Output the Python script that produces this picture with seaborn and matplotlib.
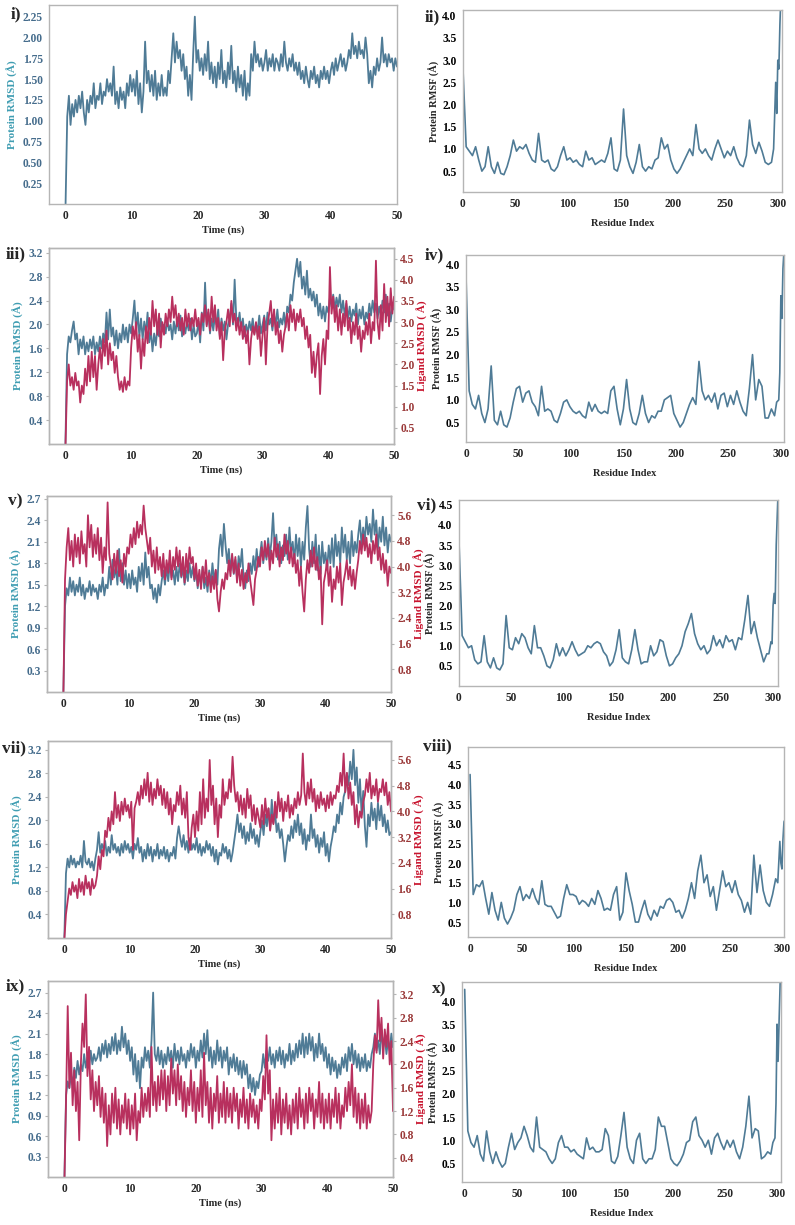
import numpy as np
import seaborn as sns
import matplotlib.pyplot as plt
from matplotlib.ticker import FormatStrFormatter

# ---- data (time step 0.25 ns, residues step 3 + tail) ----
RMSD_I = [
    0.0, 1.05, 1.3, 0.95, 1.2, 1.05, 1.25, 1.1, 1.3, 1.15, 1.35, 1.1, 0.95, 1.25, 1.1, 1.3, 1.2, 1.45, 1.15, 1.3,
    1.25, 1.45, 1.2, 1.35, 1.3, 1.5, 1.35, 1.45, 1.3, 1.65, 1.2, 1.35, 1.15, 1.4, 1.25, 1.35, 1.15, 1.45, 1.3, 1.55,
    1.35, 1.5, 1.3, 1.6, 1.2, 1.45, 1.1, 1.35, 1.95, 1.45, 1.6, 1.35, 1.55, 1.3, 1.6, 1.25, 1.45, 1.3, 1.55, 1.3,
    1.4, 1.3, 1.6, 1.45, 1.75, 2.05, 1.7, 1.95, 1.75, 1.85, 1.6, 1.8, 1.5, 1.65, 1.3, 1.55, 1.25, 1.8, 2.25, 1.7,
    1.85, 1.6, 1.75, 1.55, 1.8, 1.6, 1.95, 1.5, 1.7, 1.45, 1.65, 1.4, 1.7, 1.5, 1.85, 1.45, 1.6, 1.4, 1.7, 1.5,
    1.9, 1.45, 1.6, 1.35, 1.65, 1.4, 1.55, 1.3, 1.6, 1.25, 1.45, 1.3, 1.8, 1.6, 1.95, 1.7, 1.8, 1.65, 1.75, 1.6,
    1.7, 1.85, 1.6, 1.75, 1.65, 1.8, 1.6, 1.75, 1.7, 1.6, 1.8, 1.65, 1.95, 1.7, 1.6, 1.75, 1.65, 1.8, 1.6, 1.7,
    1.55, 1.7, 1.5, 1.6, 1.45, 1.65, 1.5, 1.4, 1.6, 1.5, 1.65, 1.45, 1.55, 1.4, 1.6, 1.5, 1.65, 1.5, 1.6, 1.45,
    1.6, 1.7, 1.55, 1.75, 1.6, 1.7, 1.8, 1.65, 1.75, 1.6, 1.7, 1.85, 1.75, 2.05, 1.8, 1.9, 1.75, 1.95, 1.8, 1.85,
    1.75, 2.0, 1.8, 1.45, 1.6, 1.4, 1.65, 1.55, 1.75, 1.6, 1.7, 2.0, 1.7, 1.8, 1.65, 1.8, 1.7, 1.75, 1.6, 1.75,
    1.65]

RMSD_III = [
    0.0, 1.5, 1.8, 1.7, 1.9, 2.05, 1.75, 1.85, 1.5, 1.75, 1.6, 1.8, 1.5, 1.7, 1.55, 1.75, 1.6, 1.8, 1.5, 1.7,
    1.55, 1.8, 1.6, 1.85, 1.7, 2.2, 1.75, 2.25, 1.8, 1.95, 1.65, 1.9, 1.6, 1.85, 1.7, 2.0, 1.75, 1.95, 1.7, 2.0,
    1.85, 2.1, 2.4, 1.9, 2.2, 1.8, 2.1, 1.75, 2.05, 1.85, 2.2, 1.7, 1.9, 1.55, 1.85, 1.65, 1.95, 1.8, 2.1, 1.9,
    2.0, 1.85, 2.1, 1.9, 2.0, 1.75, 2.05, 1.85, 2.1, 1.9, 2.15, 1.8, 2.0, 1.85, 2.05, 1.9, 2.1, 1.75, 2.0, 1.8,
    1.85, 2.05, 1.7, 2.2, 1.9, 2.7, 2.0, 2.2, 1.85, 2.1, 1.9, 2.15, 2.0, 2.25, 1.8, 2.1, 1.9, 2.05, 1.75, 2.0,
    2.1, 2.35, 2.0, 2.75, 2.1, 2.0, 2.2, 1.9, 2.1, 1.8, 2.0, 1.85, 2.05, 1.9, 2.1, 1.85, 2.0, 1.9, 2.15, 1.85,
    2.0, 2.15, 1.9, 2.2, 2.0, 2.1, 1.9, 2.15, 2.0, 2.25, 1.95, 2.1, 2.0, 2.2, 1.95, 2.3, 2.2, 2.5, 2.4, 2.7,
    2.9, 3.1, 2.8, 3.05, 2.6, 2.8, 2.5, 2.9, 2.45, 2.6, 2.4, 2.55, 2.3, 2.5, 2.15, 2.35, 2.1, 2.3, 2.05, 2.3,
    2.2, 2.45, 2.3, 2.5, 2.25, 2.45, 2.3, 2.5, 2.2, 2.4, 2.15, 2.35, 2.1, 2.3, 2.05, 2.25, 2.15, 2.35, 2.0, 2.25,
    2.1, 2.3, 2.0, 2.2, 2.1, 2.35, 2.15, 2.4, 2.2, 2.35, 2.1, 2.3, 2.15, 2.4, 2.2, 2.5, 2.15, 2.35, 2.05, 2.3,
    2.25]
LIG_III = [
    0.0, 1.6, 2.0, 1.5, 1.7, 1.4, 1.8, 1.5, 1.6, 1.1, 1.5, 1.3, 1.9, 1.5, 2.2, 1.6, 2.3, 1.7, 2.2, 1.4,
    2.0, 2.4, 1.9, 2.6, 2.2, 2.8, 2.0, 2.5, 2.1, 2.3, 1.8, 2.2, 1.7, 1.4, 1.6, 1.35, 1.7, 1.4, 1.6, 1.5,
    2.4, 2.9, 2.6, 3.0, 2.3, 2.7, 1.9, 2.6, 2.2, 2.9, 2.5, 3.1, 2.7, 3.5, 2.9, 3.3, 2.7, 3.2, 2.4, 3.0,
    2.7, 3.2, 2.9, 3.3, 3.0, 3.6, 3.1, 3.4, 2.9, 3.2, 2.8, 3.1, 2.7, 3.3, 2.9, 3.2, 2.8, 3.1, 2.9, 3.3,
    2.9, 3.1, 2.7, 3.2, 3.0, 3.4, 2.9, 3.3, 2.8, 3.6, 3.0, 3.4, 2.8, 3.1, 2.6, 3.0, 2.1, 2.8, 3.0, 3.3,
    2.9, 3.5, 3.0, 3.2, 2.8, 3.1, 2.7, 3.0, 2.6, 2.9, 2.5, 2.8, 2.0, 2.6, 2.9, 2.7, 3.0, 2.6, 2.9, 2.2,
    2.7, 3.1, 2.0, 2.9, 3.2, 3.5, 2.9, 3.3, 2.7, 3.0, 2.5, 2.8, 2.3, 2.7, 2.9, 3.2, 2.8, 3.4, 3.0, 3.3,
    2.8, 3.2, 3.0, 3.3, 2.9, 3.1, 2.6, 2.9, 2.4, 2.7, 1.8, 2.3, 1.7, 2.2, 2.5, 1.3, 2.2, 2.6, 2.0, 2.8,
    2.6, 4.3, 3.2, 3.6, 3.0, 3.4, 2.8, 3.3, 2.7, 3.2, 2.9, 3.5, 2.8, 3.1, 2.5, 3.0, 2.7, 3.2, 2.6, 2.9,
    2.3, 2.8, 2.6, 3.0, 2.7, 3.2, 2.5, 3.0, 2.8, 4.45, 3.0, 2.6, 3.4, 2.8, 3.9, 3.0, 3.6, 2.9, 3.8, 3.2,
    3.6]

RMSD_V = [
    0.0, 1.2, 1.45, 1.35, 1.6, 1.4, 1.55, 1.35, 1.5, 1.4, 1.6, 1.35, 1.5, 1.3, 1.45, 1.4, 1.55, 1.35, 1.5, 1.4,
    1.45, 1.3, 1.5, 1.4, 1.6, 1.35, 1.5, 1.45, 1.75, 1.5, 1.85, 1.6, 1.75, 1.5, 2.0, 1.55, 1.8, 1.5, 1.7, 1.45,
    1.65, 1.45, 1.7, 1.5, 1.6, 1.4, 1.75, 1.55, 1.8, 1.5, 1.95, 1.6, 1.75, 1.45, 1.5, 1.3, 1.45, 1.25, 1.5, 1.35,
    1.55, 1.7, 1.5, 1.75, 1.55, 1.8, 1.6, 1.7, 1.5, 1.75, 1.55, 1.8, 1.6, 1.75, 1.5, 1.7, 1.55, 1.8, 1.6, 1.75,
    1.55, 1.7, 1.45, 1.65, 1.5, 1.75, 1.45, 1.6, 1.4, 1.7, 1.5, 1.8, 1.55, 1.7, 1.5, 2.0, 2.2, 1.9, 2.35, 2.05,
    1.8, 2.0, 1.7, 1.9, 1.65, 1.85, 1.6, 1.9, 1.75, 2.0, 1.6, 1.45, 1.7, 1.55, 1.8, 1.65, 1.9, 1.7, 2.0, 1.75,
    1.9, 2.1, 1.8, 2.0, 1.85, 2.15, 1.9, 2.1, 2.5, 2.0, 2.2, 1.85, 2.1, 1.8, 2.05, 1.9, 2.2, 1.85, 2.3, 1.95,
    2.1, 1.8, 2.2, 1.9, 2.15, 1.75, 2.1, 1.85, 2.3, 2.6, 2.0, 1.75, 2.1, 1.8, 2.2, 1.7, 2.05, 1.65, 2.1, 1.8,
    1.95, 1.7, 2.05, 1.8, 2.15, 1.75, 2.2, 1.9, 2.1, 1.8, 2.3, 1.95, 2.2, 1.85, 2.1, 1.8, 2.25, 1.9, 2.1, 1.95,
    2.2, 2.4, 2.05, 2.3, 2.1, 2.45, 2.2, 2.35, 2.1, 2.55, 2.2, 2.4, 2.0, 2.3, 2.1, 2.45, 2.05, 2.3, 1.95, 2.2,
    2.1]
LIG_V = [
    0.0, 3.6, 4.6, 5.2, 4.2, 4.8, 4.0, 5.0, 4.3, 4.9, 4.1, 5.1, 4.4, 4.7, 4.0, 5.6, 4.6, 5.3, 4.3, 5.0,
    4.4, 5.2, 4.2, 4.9, 3.8, 4.6, 4.2, 6.0, 4.4, 4.0, 3.6, 4.4, 3.8, 4.5, 3.7, 4.2, 3.5, 4.4, 4.0, 4.6,
    4.4, 5.0, 4.6, 5.2, 4.7, 5.4, 4.9, 5.3, 5.0, 5.9, 5.2, 4.8, 4.4, 4.9, 4.0, 4.5, 3.8, 4.6, 3.9, 4.3,
    3.7, 4.4, 3.6, 4.2, 3.8, 4.5, 3.6, 4.3, 3.9, 4.6, 4.0, 4.5, 3.7, 4.3, 3.5, 4.4, 3.8, 4.6, 4.1, 4.3,
    3.6, 4.1, 3.4, 3.9, 3.3, 4.0, 3.5, 4.2, 3.4, 3.8, 3.2, 3.7, 3.3, 3.9, 3.0, 2.6, 3.2, 3.6, 3.3, 3.8,
    3.6, 4.2, 3.7, 4.4, 3.8, 4.3, 3.5, 4.1, 3.4, 3.9, 3.3, 3.8, 3.5, 4.1, 3.6, 3.2, 2.8, 3.6, 3.9, 4.3,
    4.0, 4.6, 4.2, 4.8, 4.3, 4.7, 3.9, 4.5, 4.1, 4.9, 4.3, 4.7, 4.0, 4.6, 4.2, 5.0, 4.4, 4.8, 4.1, 4.6,
    4.0, 4.4, 3.8, 4.2, 3.4, 4.0, 3.2, 2.6, 3.6, 4.2, 3.8, 4.5, 4.0, 4.6, 3.9, 4.3, 3.6, 4.0, 2.2, 3.5,
    3.8, 4.2, 3.4, 4.0, 2.9, 3.6, 3.3, 4.0, 3.5, 4.1, 2.8, 3.5, 3.8, 4.2, 3.6, 4.0, 3.4, 3.9, 3.3, 3.8,
    4.2, 4.8, 4.4, 5.0, 4.5, 4.9, 4.3, 4.7, 4.1, 4.8, 4.4, 5.0, 4.2, 4.6, 3.9, 4.4, 3.8, 4.2, 3.4, 4.0,
    3.8]

RMSD_VII = [
    0.0, 1.1, 1.35, 1.2, 1.4, 1.25, 1.35, 1.2, 1.3, 1.25, 1.4, 1.2, 1.65, 1.3, 1.25, 1.35, 1.2, 1.3, 1.15, 1.35,
    1.5, 1.8, 1.45, 1.6, 1.5, 1.65, 1.4, 1.55, 1.45, 1.75, 1.5, 1.6, 1.45, 1.55, 1.4, 1.6, 1.45, 1.65, 1.5, 1.6,
    1.45, 1.55, 1.35, 1.6, 1.5, 1.7, 1.45, 1.55, 1.3, 1.5, 1.35, 1.6, 1.4, 1.55, 1.3, 1.5, 1.4, 1.6, 1.35, 1.5,
    1.4, 1.55, 1.35, 1.5, 1.3, 1.45, 1.4, 1.55, 1.35, 1.7, 1.9, 1.7, 1.55, 1.75, 1.5, 1.65, 1.45, 1.7, 1.5, 1.6,
    1.5, 1.7, 1.45, 1.6, 1.4, 1.55, 1.45, 1.65, 1.5, 1.6, 1.4, 1.55, 1.3, 1.5, 1.25, 1.45, 1.4, 1.6, 1.45, 1.55,
    1.35, 1.5, 1.3, 1.45, 1.65, 1.85, 2.1, 1.8, 1.95, 1.7, 1.9, 1.6, 1.8, 1.65, 1.95, 1.7, 1.85, 1.6, 1.75, 1.55,
    1.8, 2.0, 1.75, 2.1, 1.9, 2.2, 1.85, 2.35, 1.95, 2.15, 1.8, 1.95, 1.7, 1.85, 1.6, 1.3, 1.55, 1.75, 1.65, 1.9,
    1.7, 2.0, 1.8, 2.1, 1.75, 1.95, 1.6, 1.85, 1.5, 1.75, 1.65, 2.1, 1.7, 1.85, 1.55, 1.75, 1.45, 1.7, 1.55, 1.8,
    1.4, 1.6, 1.3, 1.55, 1.7, 1.9, 1.8, 2.1, 1.95, 2.3, 2.1, 2.4, 2.5, 2.8, 2.6, 3.0, 2.7, 3.2, 2.6, 2.9,
    2.3, 2.7, 2.1, 2.5, 1.9, 1.55, 2.1, 1.9, 2.3, 2.0, 2.2, 1.85, 2.3, 2.0, 2.25, 1.9, 2.1, 1.8, 2.0, 1.75,
    1.8]
LIG_VII = [
    0.0, 0.8, 1.2, 1.6, 1.4, 1.8, 1.5, 1.7, 1.3, 1.9, 1.5, 1.8, 1.4, 2.0, 1.6, 1.8, 1.4, 1.9, 1.6, 1.7,
    2.0, 2.6, 2.2, 2.8, 2.6, 3.4, 3.2, 3.8, 3.4, 4.0, 3.6, 4.6, 3.8, 4.2, 3.7, 4.3, 3.9, 4.4, 4.0, 4.2,
    3.8, 4.3, 2.8, 4.1, 4.3, 4.6, 4.2, 4.8, 4.4, 5.0, 4.5, 5.2, 4.3, 4.9, 4.2, 4.7, 4.4, 5.0, 4.5, 4.8,
    4.2, 4.7, 4.1, 4.6, 3.9, 4.4, 3.6, 4.2, 4.0, 4.6, 4.2, 4.8, 3.9, 4.4, 3.8, 4.6, 3.2, 2.8, 3.5, 3.9,
    3.2, 4.0, 3.4, 4.6, 3.6, 5.0, 3.8, 4.4, 4.0, 5.6, 4.2, 4.8, 3.6, 4.4, 3.2, 4.2, 3.8, 5.0, 4.2, 4.6,
    4.4, 5.0, 4.6, 5.7, 4.8, 4.3, 4.6, 4.0, 4.5, 3.9, 4.4, 3.8, 4.7, 4.1, 4.5, 3.7, 4.2, 3.6, 4.1, 3.8,
    3.5, 4.2, 3.6, 4.4, 3.8, 4.1, 3.4, 3.9, 3.6, 4.3, 3.8, 4.6, 4.0, 4.4, 3.7, 4.3, 4.0, 4.5, 3.8, 4.2,
    3.9, 4.4, 4.1, 4.6, 4.2, 4.5, 5.8, 4.6, 4.2, 4.9, 4.4, 5.0, 4.3, 4.7, 4.0, 4.5, 4.1, 4.6, 4.2, 4.4,
    4.0, 4.5, 4.1, 4.6, 4.2, 4.5, 4.4, 4.8, 4.6, 5.2, 4.8, 5.8, 4.6, 5.2, 4.4, 4.9, 4.2, 4.6, 3.6, 4.2,
    3.5, 4.0, 3.8, 4.3, 4.5, 5.0, 4.6, 5.2, 4.4, 4.8, 4.5, 5.0, 4.3, 4.7, 4.6, 5.0, 4.5, 4.9, 4.2, 4.6,
    4.0]

RMSD_IX = [
    0.0, 1.2, 1.4, 1.3, 1.5, 1.35, 1.6, 1.45, 1.7, 1.5, 1.65, 1.55, 1.8, 1.6, 1.75, 1.6, 1.85, 1.65, 1.8, 1.7,
    1.75, 1.9, 1.7, 1.95, 1.8, 2.0, 1.75, 1.95, 1.8, 2.05, 1.85, 2.1, 1.8, 2.0, 1.85, 2.2, 1.9, 2.1, 1.8, 2.0,
    1.7, 1.9, 1.5, 1.8, 1.4, 1.7, 1.3, 1.75, 1.6, 1.9, 1.7, 1.85, 1.6, 2.0, 2.7, 1.8, 1.7, 1.9, 1.65, 1.85,
    1.6, 1.8, 1.65, 1.9, 1.7, 1.85, 1.6, 1.95, 1.7, 1.85, 1.65, 1.9, 1.7, 1.8, 1.6, 1.85, 1.7, 1.95, 1.75, 1.9,
    1.6, 1.85, 1.7, 2.0, 1.75, 2.1, 1.8, 2.15, 1.7, 1.9, 1.6, 1.85, 1.65, 2.0, 1.7, 1.9, 1.6, 1.85, 1.7, 1.9,
    1.5, 1.75, 1.6, 1.8, 1.55, 1.75, 1.5, 1.7, 1.45, 1.7, 1.5, 1.65, 1.3, 1.5, 1.25, 1.45, 1.2, 1.4, 1.3, 1.5,
    1.55, 1.8, 1.6, 1.85, 1.7, 1.9, 1.65, 1.8, 1.6, 1.85, 1.7, 1.9, 1.65, 1.85, 1.6, 1.8, 1.7, 1.95, 1.65, 1.85,
    1.7, 1.95, 1.75, 2.0, 1.8, 2.1, 1.75, 2.05, 1.8, 2.1, 1.85, 2.05, 1.7, 1.95, 1.75, 2.1, 1.8, 1.95, 1.7, 1.9,
    1.6, 1.8, 1.5, 1.75, 1.55, 1.7, 1.45, 1.65, 1.5, 1.75, 1.6, 1.8, 1.55, 1.9, 1.7, 1.95, 1.65, 1.85, 1.6, 1.8,
    1.55, 1.75, 1.6, 1.8, 1.55, 1.7, 1.6, 1.8, 1.9, 2.1, 1.85, 2.0, 1.8, 2.15, 1.9, 2.05, 1.8, 2.0, 1.85, 2.1,
    1.9]
LIG_IX = [
    0.0, 1.4, 3.0, 1.6, 2.2, 1.3, 1.9, 1.2, 1.7, 0.7, 2.0, 2.7, 2.3, 3.2, 1.8, 2.3, 1.4, 1.9, 1.2, 1.7,
    1.3, 1.8, 1.1, 1.6, 1.0, 1.5, 0.6, 1.3, 0.8, 1.5, 1.0, 1.6, 0.9, 1.4, 0.8, 1.3, 1.0, 1.5, 0.9, 1.4,
    0.8, 1.3, 0.9, 1.5, 0.7, 1.2, 1.0, 1.6, 1.1, 1.5, 1.2, 1.6, 1.1, 2.3, 1.3, 1.7, 1.2, 1.8, 1.3, 1.9,
    1.4, 1.9, 1.2, 1.8, 1.3, 2.1, 1.5, 1.9, 1.3, 2.0, 1.4, 1.8, 1.2, 1.7, 1.1, 1.6, 1.3, 1.9, 1.2, 1.7,
    1.0, 1.6, 1.2, 1.9, 1.1, 2.2, 1.3, 1.7, 1.0, 1.6, 0.9, 1.5, 1.2, 1.8, 1.0, 1.5, 1.1, 1.7, 1.0, 1.6,
    1.1, 1.5, 1.0, 1.6, 1.2, 1.5, 0.9, 1.4, 1.1, 1.6, 1.0, 1.4, 0.9, 1.5, 1.1, 1.4, 1.0, 1.3, 0.9, 1.4,
    1.2, 1.8, 1.4, 2.5, 1.5, 1.9, 0.7, 1.4, 0.9, 1.5, 1.0, 1.6, 0.8, 1.4, 1.0, 1.5, 0.9, 1.3, 0.8, 1.4,
    1.0, 1.5, 0.9, 1.6, 1.1, 1.4, 0.9, 1.5, 1.0, 1.6, 1.2, 1.5, 0.9, 1.4, 1.1, 1.7, 1.0, 1.5, 0.9, 1.4,
    1.0, 1.5, 0.9, 1.4, 1.1, 1.6, 1.0, 1.5, 0.9, 1.3, 1.1, 1.6, 1.2, 1.7, 1.3, 2.0, 1.1, 1.6, 1.0, 1.5,
    0.9, 1.4, 1.0, 1.5, 0.9, 1.3, 1.0, 1.2, 2.0, 2.5, 2.2, 3.1, 2.4, 2.8, 2.1, 2.6, 2.3, 2.7, 2.0, 2.4,
    1.2]

RESIDUES = list(range(0, 297, 3)) + [296, 298, 299, 300, 301, 302, 303, 305]

RMSF_II = [
    2.8, 1.05, 0.95, 0.85, 1.05, 0.75, 0.5, 0.6, 1.05, 0.6,
    0.45, 0.7, 0.45, 0.42, 0.6, 0.85, 1.2, 0.95, 1.05, 1.0,
    1.1, 0.9, 0.75, 0.7, 1.35, 0.75, 0.7, 0.75, 0.55, 0.5,
    0.6, 0.85, 1.05, 0.75, 0.8, 0.7, 0.75, 0.65, 0.6, 0.95,
    0.75, 0.8, 0.65, 0.7, 0.75, 0.7, 0.9, 1.25, 0.55, 0.5,
    0.75, 1.9, 0.85, 0.6, 0.45, 0.7, 1.1, 0.6, 0.5, 0.6,
    0.55, 0.75, 0.8, 1.25, 1.0, 1.1, 0.75, 0.55, 0.45, 0.55,
    0.7, 0.85, 1.0, 0.85, 1.55, 1.0, 0.9, 1.0, 0.85, 0.75,
    1.0, 1.2, 1.0, 0.8, 0.95, 0.85, 1.05, 0.8, 0.65, 0.6,
    0.85, 1.65, 1.1, 0.9, 1.15, 0.95, 0.7, 0.65, 0.7,
    1.0, 2.5, 1.8, 3.0, 2.8, 3.8, 4.5, 5.5]
RMSF_IV = [
    3.75, 1.2, 0.9, 0.8, 1.1, 0.7, 0.5, 0.8, 1.75, 0.55,
    0.45, 0.75, 0.45, 0.4, 0.6, 0.95, 1.25, 1.3, 0.95, 1.15,
    1.2, 0.95, 0.85, 0.65, 1.3, 0.75, 0.8, 0.75, 0.55, 0.5,
    0.7, 0.95, 1.0, 0.85, 0.75, 0.7, 0.75, 0.65, 0.6, 0.95,
    0.75, 0.9, 0.75, 0.7, 0.75, 0.7, 1.2, 1.3, 0.8, 0.45,
    0.8, 1.45, 0.8, 0.5, 0.45, 0.7, 1.1, 0.7, 0.5, 0.65,
    0.6, 0.75, 0.75, 1.0, 1.05, 1.1, 0.7, 0.55, 0.4, 0.5,
    0.7, 0.9, 1.05, 0.9, 1.85, 1.2, 1.0, 1.1, 0.95, 1.15,
    0.8, 1.1, 1.15, 0.85, 1.1, 0.9, 1.2, 0.95, 0.75, 0.65,
    1.25, 2.0, 1.0, 1.45, 1.3, 0.6, 0.6, 0.8, 0.65,
    0.95, 1.0, 1.6, 3.3, 2.8, 3.9, 4.3, 5.0]
RMSF_VI = [
    3.6, 1.25, 1.1, 0.95, 1.0, 0.65, 0.55, 0.6, 1.25, 0.6,
    0.45, 0.7, 0.45, 0.4, 0.55, 1.75, 0.95, 0.9, 1.2, 1.05,
    1.3, 1.2, 0.95, 0.8, 1.5, 0.95, 0.95, 0.75, 0.5, 0.45,
    0.65, 1.05, 0.75, 0.95, 0.75, 0.9, 1.1, 0.9, 0.75, 0.8,
    0.85, 1.0, 0.95, 1.05, 1.1, 1.05, 0.85, 0.75, 0.5, 0.6,
    0.9, 1.4, 0.7, 0.6, 0.55, 0.9, 1.4, 0.9, 0.55, 0.6,
    0.6, 1.0, 0.75, 0.85, 1.15, 1.1, 0.75, 0.5, 0.55, 0.7,
    0.8, 1.0, 1.35, 1.55, 1.8, 1.3, 1.05, 0.9, 1.0, 0.8,
    0.9, 1.25, 1.0, 1.15, 0.95, 1.25, 1.1, 1.15, 0.9, 1.2,
    1.15, 1.65, 2.25, 1.3, 1.6, 1.2, 0.9, 0.6, 0.8,
    0.8, 1.1, 1.05, 2.0, 2.3, 2.05, 3.5, 5.0]
RMSF_VIII = [
    4.25, 1.2, 1.45, 1.4, 1.55, 1.1, 0.7, 1.25, 0.8, 0.55,
    1.0, 0.6, 0.45, 0.6, 0.8, 1.2, 1.4, 1.05, 1.2, 1.1,
    1.35, 1.1, 0.95, 1.55, 0.95, 0.9, 0.9, 0.75, 0.6, 0.65,
    1.1, 1.45, 1.2, 1.2, 1.15, 0.95, 1.05, 1.0, 0.9, 1.1,
    0.95, 1.3, 1.1, 0.8, 0.85, 0.8, 1.2, 1.4, 0.55, 0.75,
    1.75, 1.3, 0.95, 0.5, 0.5, 0.8, 1.05, 0.7, 0.55, 0.8,
    0.65, 0.9, 0.85, 1.05, 1.1, 1.0, 0.75, 0.8, 0.6, 0.8,
    1.1, 1.5, 1.1, 1.8, 2.2, 1.5, 1.7, 1.15, 1.4, 0.8,
    1.3, 1.8, 1.4, 1.5, 1.25, 1.55, 1.2, 1.05, 0.75, 1.0,
    0.7, 2.2, 1.25, 1.95, 1.3, 1.0, 0.9, 1.2, 1.6,
    1.5, 2.55, 2.0, 1.85, 2.6, 3.05, 3.1, 3.2]
RMSF_X = [
    4.25, 1.2, 0.95, 0.85, 1.1, 0.7, 0.55, 1.2, 0.75, 0.5,
    0.75, 0.55, 0.42, 0.5, 0.85, 1.15, 0.8, 0.95, 1.05, 1.3,
    1.1, 0.85, 0.75, 1.5, 0.85, 0.8, 0.75, 0.6, 0.5, 0.6,
    0.95, 1.1, 0.85, 0.85, 0.75, 0.8, 0.7, 0.65, 0.6, 1.05,
    0.8, 0.85, 0.75, 0.75, 0.8, 1.25, 1.1, 0.55, 0.5, 0.65,
    1.1, 1.6, 0.85, 0.6, 0.5, 1.0, 1.15, 0.6, 0.5, 0.6,
    0.6, 0.8, 1.5, 1.3, 1.3, 0.95, 0.6, 0.5, 0.45, 0.55,
    0.7, 0.95, 1.0, 1.4, 1.5, 1.1, 1.0, 0.85, 1.0, 0.7,
    1.05, 1.15, 0.95, 0.8, 1.0, 0.85, 1.0, 0.75, 0.6, 0.85,
    1.3, 1.95, 1.05, 1.25, 1.2, 0.6, 0.65, 0.75, 0.7,
    0.95, 1.05, 1.8, 3.5, 2.7, 3.6, 4.4, 5.5]

TIME_TICKS = [0, 10, 20, 30, 40, 50]
RES_TICKS = [0, 50, 100, 150, 200, 250, 300]

# ---- style ----
W, H = 795, 1225
BLUE = "#4f7b96"
RED = "#b8305e"
TEAL = "#3f9db2"
TICK_BLUE = "#456c8c"
TICK_RED = "#9a3838"
LAB_RED = "#c8142e"
SPINE = "#b5b5b5"
TICK_SIZE = 8.3

sns.set_style("white")
plt.rcParams["font.family"] = ["Liberation Serif", "DejaVu Serif"]
plt.rcParams["font.weight"] = "bold"

fig = plt.figure(figsize=(W / 100, H / 100), dpi=100)


def box(l, r, t, b):
    return [l / W, 1 - b / H, (r - l) / W, (b - t) / H]


def dress(ax, color):
    for s in ax.spines.values():
        s.set_color(SPINE)
        s.set_linewidth(1.0)
    ax.tick_params(length=2.5, width=0.8, color=SPINE, labelsize=TICK_SIZE, pad=2)
    for lab in ax.get_xticklabels():
        lab.set_fontweight("bold")
    for lab in ax.get_yticklabels():
        lab.set_fontweight("bold")
        lab.set_color(color)


def tag_text(tag, xy):
    fig.text(xy[0] / W, 1 - xy[1] / H, tag, fontsize=12.5, fontweight="bold",
             ha="left", va="top")


def rmsd_panel(rect, tag, tag_xy, prot, ylim, yticks, yfmt, lig=None, lig_lim=None, lig_ticks=None):
    ax = fig.add_axes(box(*rect))
    t = np.linspace(0, 50, len(prot))
    sns.lineplot(x=t, y=prot, ax=ax, color=BLUE, linewidth=1.3)
    ax.set_xlim(-2.5, 50)
    ax.set_ylim(*ylim)
    ax.set_xticks(TIME_TICKS)
    ax.set_yticks(yticks)
    ax.yaxis.set_major_formatter(FormatStrFormatter(yfmt))
    ax.set_xlabel("Time (ns)", fontsize=7.5, fontweight="bold", labelpad=2)
    ax.set_ylabel("Protein RMSD (Å)", fontsize=8, fontweight="bold", color=TEAL, labelpad=3)
    dress(ax, TICK_BLUE)
    if lig is not None:
        ax2 = ax.twinx()
        t2 = np.linspace(0, 50, len(lig))
        sns.lineplot(x=t2, y=lig, ax=ax2, color=RED, linewidth=1.3)
        ax2.set_ylim(*lig_lim)
        ax2.set_yticks(lig_ticks)
        ax2.yaxis.set_major_formatter(FormatStrFormatter("%.1f"))
        ax2.set_ylabel("Ligand RMSD ( Å)", fontsize=8, fontweight="bold", color=LAB_RED, labelpad=1.5)
        dress(ax2, TICK_RED)
    tag_text(tag, tag_xy)
    return ax


def rmsf_panel(rect, tag, tag_xy, vals, xlim, ylim, yticks):
    ax = fig.add_axes(box(*rect))
    sns.lineplot(x=RESIDUES, y=vals, ax=ax, color=BLUE, linewidth=1.2, sort=False)
    ax.set_xlim(*xlim)
    ax.set_ylim(*ylim)
    ax.set_xticks(RES_TICKS)
    ax.set_yticks(yticks)
    ax.yaxis.set_major_formatter(FormatStrFormatter("%.1f"))
    ax.set_xlabel("Residue Index", fontsize=7.5, fontweight="bold", labelpad=6)
    ax.set_ylabel("Protein RMSF (Å)", fontsize=7.5, fontweight="bold", labelpad=2)
    dress(ax, "black")
    tag_text(tag, tag_xy)
    return ax


rmsd_panel((49, 397, 5, 204), "i)", (11, 6), RMSD_I, (0, 2.39),
           [0.25, 0.5, 0.75, 1.0, 1.25, 1.5, 1.75, 2.0, 2.25], "%.2f")
rmsf_panel((463, 782, 10, 192), "ii)", (425, 9), RMSF_II, (0, 304), (0.03, 4.13),
           [0.5, 1.0, 1.5, 2.0, 2.5, 3.0, 3.5, 4.0])

rmsd_panel((49, 394, 248, 444), "iii)", (6, 246), RMSD_III, (0, 3.28),
           [0.4, 0.8, 1.2, 1.6, 2.0, 2.4, 2.8, 3.2], "%.1f",
           LIG_III, (0.12, 4.75), [0.5, 1.0, 1.5, 2.0, 2.5, 3.0, 3.5, 4.0, 4.5])
rmsf_panel((466, 784, 255, 442), "iv)", (425, 247), RMSF_IV, (0, 303), (0.07, 4.2),
           [0.5, 1.0, 1.5, 2.0, 2.5, 3.0, 3.5, 4.0])

rmsd_panel((47, 391, 496, 692), "v)", (8, 493), RMSD_V, (0, 2.74),
           [0.3, 0.6, 0.9, 1.2, 1.5, 1.8, 2.1, 2.4, 2.7], "%.1f",
           LIG_V, (0.09, 6.2), [0.8, 1.6, 2.4, 3.2, 4.0, 4.8, 5.6])
rmsf_panel((459, 778, 500, 686), "vi)", (417, 497), RMSF_VI, (0, 304.7), (0.0, 4.62),
           [0.5, 1.0, 1.5, 2.0, 2.5, 3.0, 3.5, 4.0, 4.5])

rmsd_panel((48, 391, 741, 938), "vii)", (2, 740), RMSD_VII, (0, 3.35),
           [0.4, 0.8, 1.2, 1.6, 2.0, 2.4, 2.8, 3.2], "%.1f",
           LIG_VII, (0.06, 6.19), [0.8, 1.6, 2.4, 3.2, 4.0, 4.8, 5.6])
rmsf_panel((468, 784, 747, 937), "viii)", (423, 738), RMSF_VIII, (-2, 302), (0.12, 4.95),
           [0.5, 1.0, 1.5, 2.0, 2.5, 3.0, 3.5, 4.0, 4.5])

rmsd_panel((48, 393, 981, 1177), "ix)", (6, 978), RMSD_IX, (0, 2.87),
           [0.3, 0.6, 0.9, 1.2, 1.5, 1.8, 2.1, 2.4, 2.7], "%.1f",
           LIG_IX, (0.07, 3.43), [0.4, 0.8, 1.2, 1.6, 2.0, 2.4, 2.8, 3.2])
rmsf_panel((462, 781, 982, 1182), "x)", (432, 981), RMSF_X, (-2.6, 303.8), (0.1, 4.41),
           [0.5, 1.0, 1.5, 2.0, 2.5, 3.0, 3.5, 4.0])

fig.savefig("out.png", dpi=100, facecolor="white")
